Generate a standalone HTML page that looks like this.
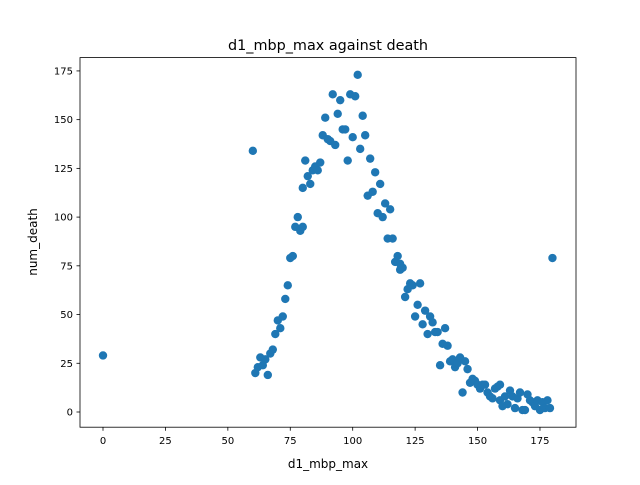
<!DOCTYPE html>
<html><head><meta charset="utf-8"><style>
body{margin:0;background:#fff}
svg text{font-family:"DejaVu Sans","Liberation Sans",sans-serif;fill:#000}
</style></head><body>
<svg id="chart" width="640" height="480" xmlns="http://www.w3.org/2000/svg">
<rect width="640" height="480" fill="#fff"/>
<text x="328" y="50" font-size="14.4" text-anchor="middle">d1_mbp_max against death</text>
<g id="marks"></g>
<rect x="80" y="57.6" width="496" height="369.6" fill="none" stroke="#000" stroke-width="0.8"/>
<g id="xticks"></g><g id="yticks"></g>
<text x="328" y="468" font-size="12" text-anchor="middle">d1_mbp_max</text>
<text transform="translate(37,242) rotate(-90)" font-size="12" text-anchor="middle">num_death</text>
</svg>
<script>
const xs=[0,60,61,62,63,64,65,66,67,68,69,70,71,72,73,74,75,76,77,78,79,80,80,81,82,83,84,85,86,87,88,89,90,91,92,93,94,95,96,97,98,99,100,101,102,103,104,105,106,107,108,109,110,111,112,113,114,115,116,117,118,119,119,120,121,122,123,124,125,126,127,128,129,130,131,132,133,134,135,136,137,138,139,140,141,142,143,144,145,146,147,148,149,150,151,152,153,154,155,156,157,158,159,159,160,161,162,163,164,165,166,167,168,169,170,171,172,173,174,175,176,177,178,179,180];
const ys=[29,134,20,23,28,24,27,19,30,32,40,47,43,49,58,65,79,80,95,100,93,95,115,129,121,117,124,126,124,128,142,151,140,139,163,137,153,160,145,145,129,163,141,162,173,135,152,142,111,130,113,123,102,117,100,107,89,104,89,77,80,73,76,74,59,63,66,65,49,55,66,45,52,40,49,46,41,41,24,35,43,34,26,27,23,25,28,10,26,22,15,17,16,14,12,14,14,10,8,7,12,13,14,6,3,8,4,11,8,2,7,10,1,1,9,6,5,3,6,1,5,2,6,2,79];
const xTicks=[0,25,50,75,100,125,150,175];
const yTicks=[0,25,50,75,100,125,150,175];
const NS="http://www.w3.org/2000/svg";
const X=v=>103+v*2.497, Y=v=>412-v*1.949;
const m=document.getElementById('marks');
xs.forEach((x,i)=>{const c=document.createElementNS(NS,'circle');


c.setAttribute('cx',X(x));c.setAttribute('cy',Y(ys[i]));c.setAttribute('r',4.2);c.setAttribute('fill','#1f77b4');m.appendChild(c);});
const xt=document.getElementById('xticks');
xTicks.forEach(t=>{const g=document.createElementNS(NS,'g');


g.innerHTML=`<line x1="${X(t)}" x2="${X(t)}" y1="427.2" y2="430.7" stroke="#000" stroke-width="0.8"/><text x="${X(t)}" y="444" font-size="10" text-anchor="middle">${t}</text>`;xt.appendChild(g);});
const yt=document.getElementById('yticks');
yTicks.forEach(t=>{const g=document.createElementNS(NS,'g');


g.innerHTML=`<line x1="76.5" x2="80" y1="${Y(t)}" y2="${Y(t)}" stroke="#000" stroke-width="0.8"/><text x="73" y="${Y(t)+3.5}" font-size="10" text-anchor="end">${t}</text>`;yt.appendChild(g);});
</script>
</body></html>
